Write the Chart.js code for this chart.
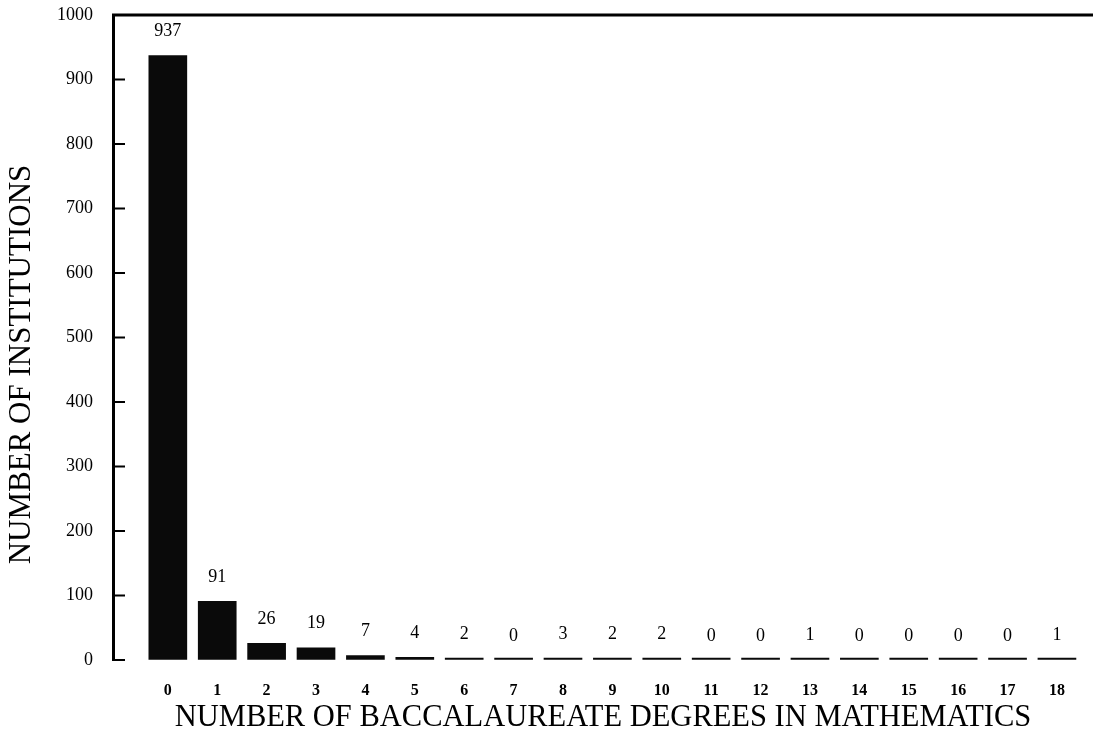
<!DOCTYPE html>
<html>
<head>
<meta charset="utf-8">
<script src="https://cdn.jsdelivr.net/npm/chart.js@4/dist/chart.umd.min.js"></script>
<style>
  html, body { margin: 0; padding: 0; background: #fff; }
  #wrap { width: 1093px; height: 738px; }
</style>
</head>
<body>
<div id="wrap"><canvas id="degreesChart"></canvas></div>
<script>
// Number of baccalaureate degrees in mathematics (category) -> number of institutions
const degrees = [0, 1, 2, 3, 4, 5, 6, 7, 8, 9, 10, 11, 12, 13, 14, 15, 16, 17, 18];
const institutions = [937, 91, 26, 19, 7, 4, 2, 0, 3, 2, 2, 0, 0, 1, 0, 0, 0, 0, 1];
const yTicks = [0, 100, 200, 300, 400, 500, 600, 700, 800, 900, 1000];
const yTitle = 'NUMBER OF INSTITUTIONS';

const serif = '"Liberation Serif", "DejaVu Serif", serif';

// top frame line, inward tick marks, y title and the count printed over each bar
const annotate = {
    id: 'annotate',
    afterDatasetsDraw(chart) {
        const ctx = chart.ctx;
        const { top, bottom, left, right } = chart.chartArea;
        const y = chart.scales.y;
        ctx.save();
        ctx.strokeStyle = '#000';
        ctx.lineWidth = 3;
        ctx.beginPath();
        ctx.moveTo(left - 1, top);
        ctx.lineTo(right, top);
        ctx.stroke();

        ctx.lineWidth = 2;
        ctx.beginPath();
        y.ticks.forEach(t => {
            const py = y.getPixelForValue(t.value);
            ctx.moveTo(left, py);
            ctx.lineTo(left + 12, py);
        });
        ctx.stroke();

        ctx.fillStyle = '#000';
        ctx.font = '18px ' + serif;
        ctx.textAlign = 'center';
        ctx.textBaseline = 'middle';
        const meta = chart.getDatasetMeta(0);
        meta.data.forEach((bar, i) => {
            const py = y.getPixelForValue(institutions[i]);
            ctx.fillText(String(institutions[i]), bar.x, py - 24);
        });

        // y title sits a bit below the middle of the axis in the original
        ctx.font = '31px ' + serif;
        ctx.translate(22, (top + bottom) / 2 + 27);
        ctx.rotate(-Math.PI / 2);
        ctx.fillText(yTitle, 0, 0);
        ctx.restore();
    }
};

new Chart(document.getElementById('degreesChart').getContext('2d'), {
    type: 'bar',
    data: {
        datasets: [{
            data: degrees.map((d, i) => ({ x: d, y: institutions[i] })),
            backgroundColor: '#0a0a0a',
            barThickness: 38,
            minBarLength: 2
        }]
    },
    options: {
        responsive: true,
        maintainAspectRatio: false,
        animation: false,
        layout: { padding: { top: 15, right: 0, bottom: 0, left: 0 } },
        plugins: {
            legend: { display: false },
            tooltip: { enabled: false }
        },
        scales: {
            x: {
                type: 'linear',
                offset: false,
                min: -1.11,
                max: 18.73,
                afterBuildTicks: s => { s.ticks = degrees.map(v => ({ value: v })); },
                afterFit: s => { s.height = 78; },
                grid: { display: false },
                border: { display: false },
                ticks: {
                    autoSkip: false,
                    maxRotation: 0,
                    padding: 13,
                    color: '#000',
                    font: { family: serif, size: 16, weight: 'bold' },
                    callback: v => String(v)
                },
                title: {
                    display: true,
                    text: 'NUMBER OF BACCALAUREATE DEGREES IN MATHEMATICS',
                    color: '#000',
                    font: { family: serif, size: 30.5 },
                    padding: { top: 0, bottom: 2 }
                }
            },
            y: {
                min: 0,
                max: 1000,
                afterBuildTicks: s => { s.ticks = yTicks.map(v => ({ value: v })); },
                afterFit: s => {
                    s.width = 113;
                    s.paddingTop = 0;
                    s.paddingBottom = 0;
                },
                grid: { display: true, drawOnChartArea: false, drawTicks: false },
                border: { display: true, color: '#000', width: 3 },
                ticks: {
                    padding: 20,
                    color: '#000',
                    font: { family: serif, size: 18 },
                    callback: v => String(v)
                },
                title: { display: false }
            }
        }
    },
    plugins: [annotate]
});
</script>
</body>
</html>
